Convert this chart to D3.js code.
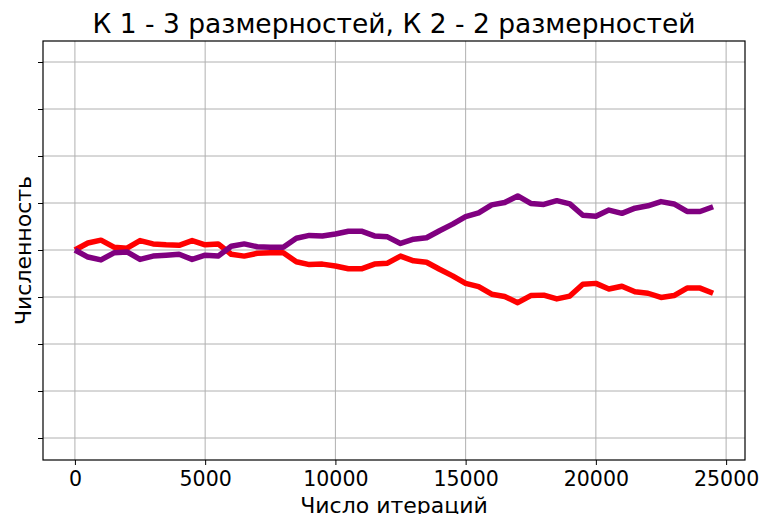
<!DOCTYPE html>
<html lang="ru">
<head>
<meta charset="UTF-8">
<title>К 1 - 3 размерностей, К 2 - 2 размерностей</title>
<script src="https://cdn.jsdelivr.net/npm/d3@7"></script>
<style>
    body { margin: 0; background: #fff; }
    svg { font-family: "DejaVu Sans", sans-serif; }
</style>
</head>
<body>
<div id="chart"></div>
<script>
// iterations, step 500
const iterations = d3.range(0, 25000, 500)

// K 2 population share (purple)
const k2 = [0.500, 0.485, 0.479, 0.494, 0.496, 0.480, 0.487, 0.489, 0.491, 0.480,
    0.489, 0.487, 0.508, 0.513, 0.507, 0.506, 0.506, 0.525, 0.531, 0.530,
    0.534, 0.540, 0.540, 0.530, 0.528, 0.514, 0.523, 0.526, 0.541, 0.555,
    0.571, 0.579, 0.596, 0.601, 0.615, 0.599, 0.597, 0.605, 0.598, 0.574,
    0.572, 0.585, 0.578, 0.589, 0.594, 0.603, 0.598, 0.582, 0.582, 0.592]

// K 1 population share (red)
const k1 = [0.500, 0.515, 0.521, 0.506, 0.504, 0.520, 0.513, 0.511, 0.510, 0.520,
    0.511, 0.513, 0.491, 0.487, 0.493, 0.494, 0.494, 0.475, 0.469, 0.470,
    0.466, 0.460, 0.460, 0.470, 0.472, 0.487, 0.477, 0.474, 0.459, 0.445,
    0.429, 0.422, 0.406, 0.401, 0.388, 0.403, 0.404, 0.396, 0.402, 0.427,
    0.429, 0.417, 0.423, 0.411, 0.408, 0.399, 0.403, 0.419, 0.419, 0.408]

const xTicks = [0, 5000, 10000, 15000, 20000, 25000]
const yTicks = [0.1, 0.2, 0.3, 0.4, 0.5, 0.6, 0.7, 0.8, 0.9]

const width = 761, height = 514
const margin = {top: 41, right: 16, bottom: 54, left: 43}

const svg = d3.select("#chart").append("svg")
    .attr("width", width)
    .attr("height", height)

const x = d3.scaleLinear()
    .domain([-1225, 25725])
    .range([margin.left, width - margin.right])
const y = d3.scaleLinear()
    .domain([0.0532, 0.9447])
    .range([height - margin.bottom, margin.top])

// grid
svg.append("g").selectAll("line").data(xTicks).join("line")
    .attr("x1", d => x(d)).attr("x2", d => x(d))
    .attr("y1", margin.top).attr("y2", height - margin.bottom)
    .attr("stroke", "#b0b0b0").attr("stroke-width", 1)
svg.append("g").selectAll("line").data(yTicks).join("line")
    .attr("x1", margin.left).attr("x2", width - margin.right)
    .attr("y1", d => y(d)).attr("y2", d => y(d))
    .attr("stroke", "#b0b0b0").attr("stroke-width", 1)

// lines
const line = series => d3.line()
    .x((d, i) => x(iterations[i]))
    .y(d => y(d))(series)

svg.append("path").attr("d", line(k1))
    .attr("fill", "none").attr("stroke", "#ff0000")
    .attr("stroke-width", 5.5).attr("stroke-linejoin", "round")
svg.append("path").attr("d", line(k2))
    .attr("fill", "none").attr("stroke", "#800080")
    .attr("stroke-width", 5.5).attr("stroke-linejoin", "round")

// axes
const xAxis = svg.append("g")
    .attr("transform", `translate(0,${height - margin.bottom})`)
    .call(d3.axisBottom(x).tickValues(xTicks).tickSize(5).tickPadding(6).tickFormat(d3.format("d")))
const yAxis = svg.append("g")
    .attr("transform", `translate(${margin.left},0)`)
    .call(d3.axisLeft(y).tickValues(yTicks).tickSize(5).tickFormat(""))
;[xAxis, yAxis].forEach(a => {
    a.select(".domain").remove()
    a.selectAll(".tick line").attr("stroke", "#000").attr("stroke-width", 1)
})
xAxis.selectAll("text").attr("font-size", 20.5).attr("fill", "#000")
    .attr("font-family", "DejaVu Sans")

// frame
svg.append("rect")
    .attr("x", margin.left).attr("y", margin.top)
    .attr("width", width - margin.left - margin.right)
    .attr("height", height - margin.top - margin.bottom)
    .attr("fill", "none").attr("stroke", "#000").attr("stroke-width", 1.2)

// labels
svg.append("text")
    .attr("x", (margin.left + width - margin.right) / 2)
    .attr("y", 33)
    .attr("text-anchor", "middle")
    .attr("font-size", 26.5)
    .text("К 1 - 3 размерностей, К 2 - 2 размерностей")
svg.append("text")
    .attr("x", (margin.left + width - margin.right) / 2)
    .attr("y", 513)
    .attr("text-anchor", "middle")
    .attr("font-size", 22)
    .text("Число итераций")
svg.append("text")
    .attr("transform", `translate(31,${(margin.top + height - margin.bottom) / 2}) rotate(-90)`)
    .attr("text-anchor", "middle")
    .attr("font-size", 22)
    .text("Численность")
</script>
</body>
</html>
